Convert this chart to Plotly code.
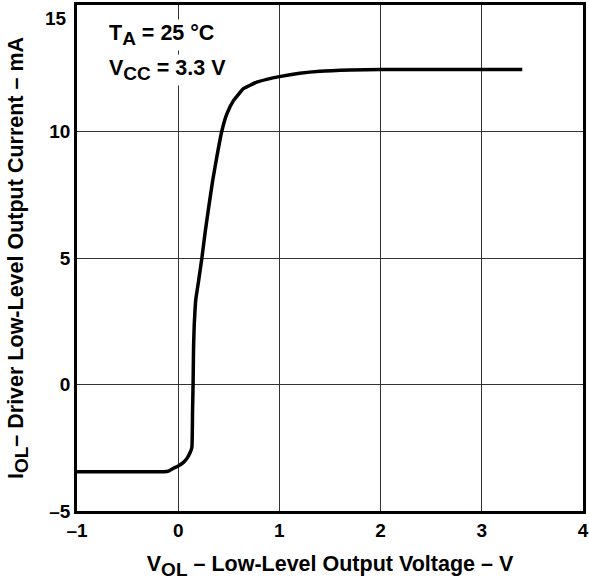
import plotly.graph_objects as go

# Curve data
v_ol = [-1.0, -0.6, -0.3, -0.145, -0.09, -0.046, 0.0, 0.052, 0.09, 0.118, 0.135, 0.142,
        0.147, 0.152, 0.158, 0.167, 0.175, 0.2, 0.234, 0.267, 0.3, 0.34, 0.38, 0.43,
        0.48, 0.546, 0.645, 0.777, 0.875, 1.0, 1.2, 1.4, 1.7, 2.0, 2.5, 3.0, 3.4]
i_ol = [-3.45, -3.45, -3.45, -3.45, -3.41, -3.31, -3.22, -3.08, -2.9, -2.69, -2.49, -1.0,
        0.0, 1.5, 2.3, 3.0, 3.4, 4.05, 5.0, 6.04, 6.97, 8.04, 8.96, 10.0,
        10.69, 11.22, 11.69, 11.95, 12.06, 12.17, 12.3, 12.38, 12.43, 12.45, 12.45, 12.45, 12.45]

x_ticks = [-1, 0, 1, 2, 3, 4]
x_labels = ["–1", "0", "1", "2", "3", "4"]
y_ticks = [-5, 0, 5, 10, 15]
y_labels = ["–5", "0", "5", "10", ""]
top_label = "15"

font = "Liberation Sans, Arial, sans-serif"


def sub(s):
    return '<sub><span style="font-size:19px">' + s + '</span></sub>'


fig = go.Figure()
fig.add_trace(go.Scatter(x=v_ol, y=i_ol, mode="lines",
                         line=dict(color="black", width=3.5, shape="spline", smoothing=0.4),
                         showlegend=False, hoverinfo="skip"))

fig.update_layout(
    width=589, height=581,
    margin=dict(l=77, r=6, t=5, b=70),
    paper_bgcolor="white", plot_bgcolor="white",
    font=dict(family=font, size=19, color="black"),
)
fig.update_xaxes(
    range=[-1, 4], tickvals=x_ticks, ticktext=x_labels,
    showgrid=True, gridcolor="#333", gridwidth=1,
    showline=True, linecolor="black", linewidth=2.5, mirror=True,
    zeroline=False, ticks="", automargin=False, ticklabeloverflow="allow",
    tickfont=dict(family=font, size=19, color="black", weight="bold"),
    title=dict(text="<b>V" + sub("OL") + " – Low-Level Output Voltage – V</b>",
               font=dict(family=font, size=21.5), standoff=17),
)
fig.update_yaxes(
    range=[-5, 15], tickvals=y_ticks, ticktext=y_labels,
    showgrid=True, gridcolor="#333", gridwidth=1,
    showline=True, linecolor="black", linewidth=2.5, mirror=True,
    zeroline=False, ticks="", automargin=False, ticklabeloverflow="allow",
    tickfont=dict(family=font, size=19, color="black", weight="bold"),
    title=dict(text="<b>I" + sub("OL") + "– Driver Low-Level Output Current – mA</b>",
               font=dict(family=font, size=21.5), standoff=20),
)

# top tick label, nudged down so it stays inside the page
fig.add_annotation(xref="paper", yref="paper", x=0, y=1, xanchor="right", yanchor="top",
                   xshift=-8, yshift=-1, showarrow=False, text="<b>" + top_label + "</b>",
                   font=dict(family=font, size=19, color="black"))

fig.add_annotation(xref="paper", yref="paper", x=0.06, y=0.941,
                   xanchor="left", yanchor="middle", showarrow=False,
                   text="<b>T" + sub("A") + " = 25 °C</b>", bgcolor="white",
                   font=dict(family=font, size=21.5, color="black"))
fig.add_annotation(xref="paper", yref="paper", x=0.06, y=0.871,
                   xanchor="left", yanchor="middle", showarrow=False,
                   text="<b>V" + sub("CC") + " = 3.3 V</b>", bgcolor="white",
                   font=dict(family=font, size=21.5, color="black"))

fig.write_html("out.html", config={"displayModeBar": False},
               post_script="document.body.style.margin='0px';")
